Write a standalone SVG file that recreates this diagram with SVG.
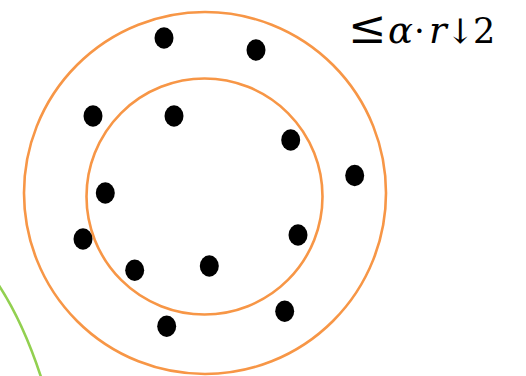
<svg xmlns="http://www.w3.org/2000/svg" width="526" height="376" viewBox="0 0 526 376">
<style>
.ring{fill:none;stroke:#F79646;stroke-width:2.6}
.dot{fill:#000}
.lbl{font-family:"DejaVu Serif","Liberation Serif",serif;font-size:31px;fill:#000}
.it{font-style:italic}
</style>
<rect width="526" height="376" fill="#fff"/>
<g id="green-arc"><path d="M -2,284 Q 23,322 41,377" fill="none" stroke="#92D050" stroke-width="2.6"/></g>
<g id="outer-circle"><circle class="ring" cx="205" cy="193" r="181"/></g>
<g id="inner-circle"><circle class="ring" cx="204.5" cy="196.5" r="118"/></g>
<g id="points">
<ellipse class="dot" cx="164" cy="38" rx="9.5" ry="10.7"/>
<ellipse class="dot" cx="256" cy="50" rx="9.5" ry="10.7"/>
<ellipse class="dot" cx="93" cy="116" rx="9.5" ry="10.7"/>
<ellipse class="dot" cx="174" cy="116" rx="9.5" ry="10.7"/>
<ellipse class="dot" cx="290.7" cy="140" rx="9.5" ry="10.7"/>
<ellipse class="dot" cx="354.7" cy="175.5" rx="9.5" ry="10.7"/>
<ellipse class="dot" cx="105.3" cy="193" rx="9.5" ry="10.7"/>
<ellipse class="dot" cx="83" cy="239" rx="9.5" ry="10.7"/>
<ellipse class="dot" cx="134.7" cy="270.3" rx="9.5" ry="10.7"/>
<ellipse class="dot" cx="209.3" cy="266" rx="9.5" ry="10.7"/>
<ellipse class="dot" cx="166.7" cy="326.3" rx="9.5" ry="10.7"/>
<ellipse class="dot" cx="298" cy="235" rx="9.5" ry="10.7"/>
<ellipse class="dot" cx="284.7" cy="311.3" rx="9.5" ry="10.7"/>
</g>
<g id="label">
<text class="lbl" y="43"><tspan x="348" style="font-size:46px">≤</tspan><tspan class="it" x="388" style="font-size:37px">α</tspan><tspan x="414" style="font-size:34px">·</tspan><tspan class="it" x="429" style="font-size:37px">r</tspan><tspan x="446" style="font-size:34px">↓</tspan><tspan x="473" style="font-size:35px">2</tspan></text>
</g>
</svg>
